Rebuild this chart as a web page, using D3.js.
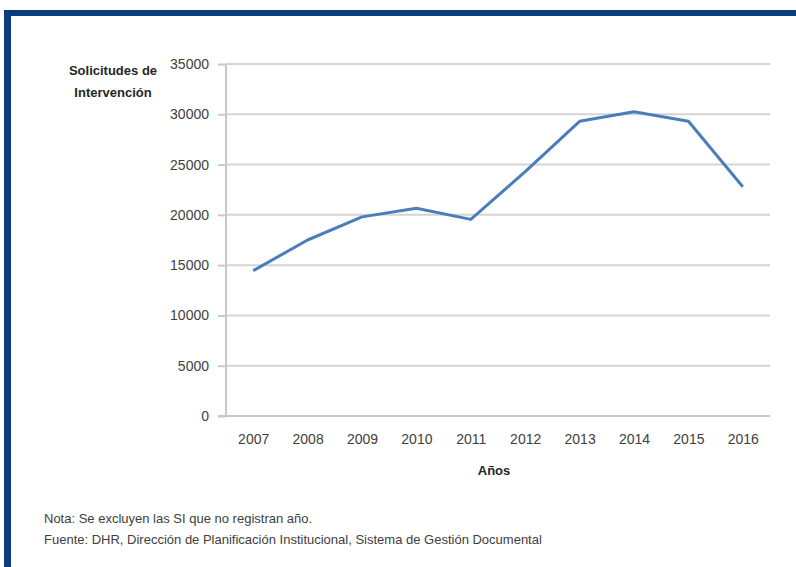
<!DOCTYPE html>
<html>
<head>
<meta charset="utf-8">
<script src="https://cdn.jsdelivr.net/npm/d3@7"></script>
<style>
  html, body { margin: 0; padding: 0; background: #fff; }
  svg { display: block; }
</style>
</head>
<body>
<svg id="chart" width="796" height="567"></svg>
<script>
// Solicitudes de intervención por año
const years = ["2007", "2008", "2009", "2010", "2011", "2012", "2013", "2014", "2015", "2016"];
const requests = [14450, 17500, 19800, 20650, 19550, 24300, 29300, 30250, 29300, 22800];
const yTicks = [0, 5000, 10000, 15000, 20000, 25000, 30000, 35000];
const yTitle = ["Solicitudes de", "Intervención"];
const xTitle = "Años";
const notes = [
  "Nota: Se excluyen las SI que no registran año.",
  "Fuente: DHR, Dirección de Planificación Institucional, Sistema de Gestión Documental"
];

const svg = d3.select("#chart");
const font = "'Liberation Sans', Arial, sans-serif";
const textColor = "#404040";

// frame: top and left rules
svg.append("rect").attr("x", 4).attr("y", 10).attr("width", 792).attr("height", 6).attr("fill", "#0b3c7d");
svg.append("rect").attr("x", 4).attr("y", 10).attr("width", 7).attr("height", 557).attr("fill", "#0b3c7d");

const plot = { left: 226, right: 770, top: 64, bottom: 416 };

const x = d3.scalePoint().domain(years).range([plot.left, plot.right]).padding(0.5);
const y = d3.scaleLinear().domain([0, 35000]).range([plot.bottom, plot.top]);

// horizontal gridlines
svg.append("g")
  .selectAll("line")
  .data(yTicks.filter(d => d > 0))
  .join("line")
  .attr("x1", plot.left).attr("x2", plot.right)
  .attr("y1", d => y(d)).attr("y2", d => y(d))
  .attr("stroke", "#d4d4d4").attr("stroke-width", 2);

// y axis
const yAxis = svg.append("g")
  .attr("transform", `translate(${plot.left},0)`)
  .call(d3.axisLeft(y).tickValues(yTicks).tickFormat(d3.format("d")).tickSize(8).tickPadding(9));
yAxis.select(".domain").attr("stroke", "#c8c8c8").attr("stroke-width", 2).attr("d", `M0,${plot.top}V${plot.bottom}`);
yAxis.selectAll(".tick line").attr("stroke", "#c8c8c8").attr("stroke-width", 2);
yAxis.selectAll(".tick text").attr("fill", textColor).style("font-family", font).style("font-size", "14px");

// x axis
const xAxis = svg.append("g")
  .attr("transform", `translate(0,${plot.bottom})`)
  .call(d3.axisBottom(x).tickSize(0).tickPadding(18));
xAxis.select(".domain").attr("stroke", "#c8c8c8").attr("stroke-width", 2).attr("d", `M${plot.left - 8},0H${plot.right}`);
xAxis.selectAll(".tick text").attr("fill", textColor).style("font-family", font).style("font-size", "14px");

// series line
const line = d3.line().x((d, i) => x(years[i])).y(d => y(d));
svg.append("path")
  .datum(requests)
  .attr("d", line)
  .attr("fill", "none")
  .attr("stroke", "#4a7ebb")
  .attr("stroke-width", 3)
  .attr("stroke-linejoin", "round");

// axis titles
svg.append("text")
  .attr("x", 113).attr("y", 75)
  .attr("text-anchor", "middle")
  .attr("fill", "#262626")
  .style("font-family", font).style("font-size", "13px").style("font-weight", "bold")
  .selectAll("tspan")
  .data(yTitle)
  .join("tspan")
  .attr("x", 113).attr("dy", (d, i) => i ? 22 : 0)
  .text(d => d);

svg.append("text")
  .attr("x", 494).attr("y", 475)
  .attr("text-anchor", "middle")
  .attr("fill", "#262626")
  .style("font-family", font).style("font-size", "13px").style("font-weight", "bold")
  .text(xTitle);

// footnotes
svg.append("g")
  .selectAll("text")
  .data(notes)
  .join("text")
  .attr("x", 44).attr("y", (d, i) => 523 + i * 21)
  .attr("fill", textColor)
  .style("font-family", font).style("font-size", "13px")
  .text(d => d);
</script>
</body>
</html>
